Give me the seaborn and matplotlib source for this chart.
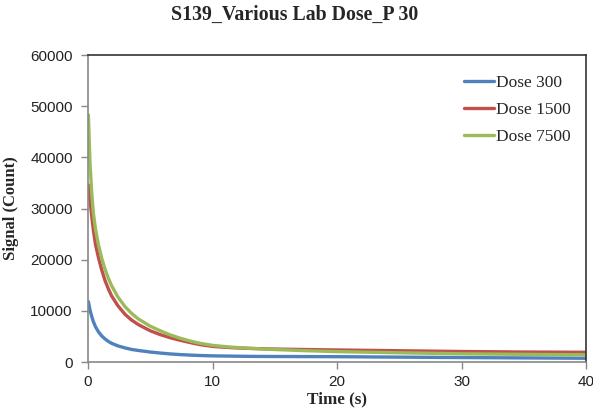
import matplotlib
matplotlib.use("Agg")
import matplotlib.pyplot as plt
from matplotlib.lines import Line2D
import seaborn as sns
import pandas as pd

time_s = [0.03, 0.16, 0.3, 0.43, 0.6, 0.83, 1.1, 1.37, 1.65, 1.9, 2.4, 2.98, 3.5, 4.05,
          5.0, 5.8, 6.6, 7.4, 8.2, 9.0, 10, 11.5, 13, 14.6, 17, 20, 25, 30, 35, 40]
dose_300 = [11800, 10160, 8900, 7900, 6900, 5930, 5100, 4500, 4000, 3650, 3150, 2750,
            2450, 2250, 1950, 1750, 1580, 1450, 1350, 1270, 1200, 1150, 1100, 1080,
            1060, 1040, 950, 870, 800, 730]
dose_1500 = [34600, 31660, 28500, 25800, 23000, 20500, 18000, 15900, 14200, 12900,
             11000, 9300, 8200, 7300, 6100, 5350, 4750, 4250, 3800, 3400, 3050, 2800,
             2650, 2550, 2450, 2350, 2200, 2050, 1950, 1900]
dose_7500 = [48300, 38900, 33000, 29100, 26000, 23000, 20300, 18100, 16300, 14900,
             12700, 10800, 9500, 8400, 7000, 6100, 5300, 4650, 4100, 3650, 3250, 2900,
             2680, 2480, 2250, 2030, 1800, 1600, 1500, 1400]
series_names = ["Dose 300", "Dose 1500", "Dose 7500"]
colors = ["#4F81BD", "#C0504D", "#9BBB59"]
x_ticks = [0, 10, 20, 30, 40]
y_ticks = [0, 10000, 20000, 30000, 40000, 50000, 60000]

rows = []
for name, vals in zip(series_names, [dose_300, dose_1500, dose_7500]):
    for t, v in zip(time_s, vals):
        rows.append({"Time": t, "Signal": v, "Series": name})
df = pd.DataFrame(rows)

sns.set_style("white")
fig = plt.figure(figsize=(5.93, 4.2), dpi=100)
ax = fig.add_axes([88/593, 1-362/420, (586-88)/593, (362-55)/420])

sns.lineplot(data=df, x="Time", y="Signal", hue="Series", palette=colors,
             hue_order=series_names, linewidth=2.4, ax=ax, legend=False)

ax.set_xlim(0, 40)
ax.set_ylim(0, 60000)
ax.set_xticks(x_ticks)
ax.set_yticks(y_ticks)
tick_font = dict(family="Liberation Sans", size=11, color="#222222")
ax.set_xticklabels([str(v) for v in x_ticks], **tick_font)
ax.set_yticklabels([str(v) for v in y_ticks], **tick_font)
ax.tick_params(axis="both", direction="out", length=5, width=1, color="#888888",
               bottom=True, left=True)
ax.tick_params(axis="y", pad=6)
ax.tick_params(axis="x", pad=4)

for side in ["left", "bottom"]:
    ax.spines[side].set_color("#888888")
    ax.spines[side].set_linewidth(1.2)
for side in ["top", "right"]:
    ax.spines[side].set_visible(True)
    ax.spines[side].set_color("#333333")
    ax.spines[side].set_linewidth(1.2)

ax.set_xlabel("Time (s)", family="Liberation Serif", fontweight="bold", size=12.3, labelpad=2)
ax.set_ylabel("Signal (Count)", family="Liberation Serif", fontweight="bold", size=12, labelpad=8)

fig.text(295/593, 1-15/420, "S139_Various Lab Dose_P 30", family="Liberation Serif",
         fontweight="bold", size=14.3, ha="center", va="center")

handles = [Line2D([0], [0], color=c, lw=2.4) for c in colors]
ax.legend(handles, series_names, loc="upper left",
          bbox_to_anchor=(464/593, 1-75/420), bbox_transform=fig.transFigure,
          frameon=False, handlelength=1.75, handletextpad=0.1, labelspacing=0.62,
          borderpad=0, borderaxespad=0,
          prop=dict(family="Liberation Serif", size=12.5))

fig.savefig("out.png", dpi=100)
